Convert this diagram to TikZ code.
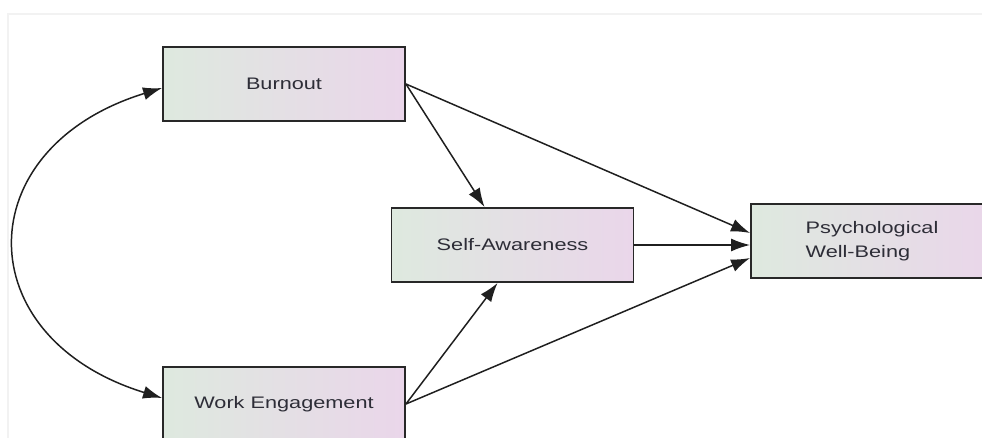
\documentclass[tikz,border=0pt]{standalone}
\usepackage{fontspec}
\setmainfont[FakeStretch=1.3]{Liberation Sans}
\usetikzlibrary{
  arrows.meta,
  calc
}
\definecolor{boxgreen}{RGB}{222,233,223}
\definecolor{boxpink}{RGB}{234,214,234}
\definecolor{edgegray}{RGB}{40,40,40}
\definecolor{textgray}{RGB}{45,45,55}

\begin{document}
\begin{tikzpicture}[
  x=0.02cm, y=-0.02cm,
  var/.style={draw=edgegray, line width=1.1pt, left color=boxgreen, right color=boxpink,
              minimum width=4.84cm, minimum height=1.48cm, inner sep=0pt,
              text=textgray, align=left, font=\fontsize{9.5}{14}\selectfont},
  path/.style={-{Latex[length=0.38cm, width=0.26cm]}, line width=0.85pt, draw=black!88},
  cov/.style={{Latex[length=0.38cm, width=0.26cm]}-{Latex[length=0.38cm, width=0.26cm]},
              line width=0.85pt, draw=black!88}
]
\useasboundingbox (0,0) rectangle (982,438);

% faint frame of the screenshot
\draw[black!5, line width=0.6pt] (982,14) -- (8,14) -- (8,438);

\node[var] (burn) at (284,84) {Burnout};
\node[var] (sa) at (512.5,245) {Self-Awareness};
\node[var] (pwb) at (872,241) {Psychological\\Well-Being};
\node[var] (we) at (284,404) {Work Engagement};

\draw[path] (burn.east) -- ([yshift=0.16cm]pwb.west);
\draw[path] (burn.east) -- ($(sa.north west)+(94,0)$);
\draw[path] (sa.east) -- (sa.east -| pwb.west);
\draw[path] (we.east) -- ($(sa.south west)+(107,0)$);
\draw[path] (we.east) -- ([yshift=-0.34cm]pwb.west);

% correlation
\draw[cov] ($(burn.west)+(0,4)$) .. controls (-33,148) and (-33,338) .. ($(we.west)+(0,-6)$);

\end{tikzpicture}
\end{document}
